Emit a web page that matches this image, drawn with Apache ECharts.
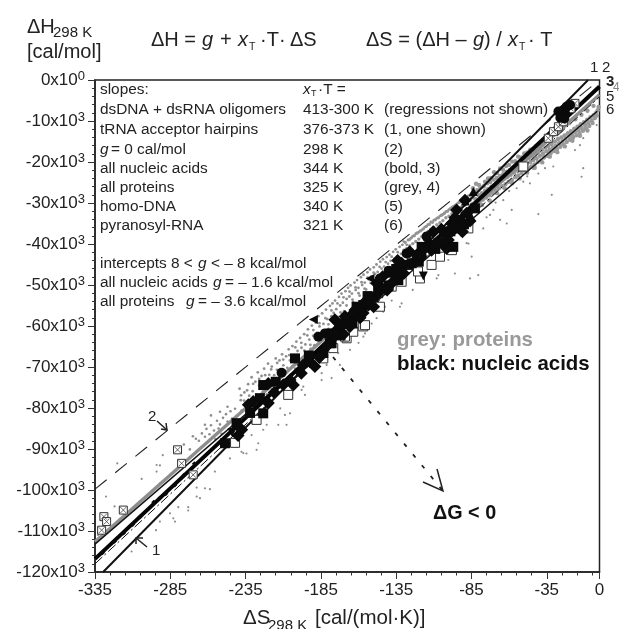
<!DOCTYPE html>
<html><head><meta charset="utf-8">
<style>html,body{margin:0;padding:0;background:#fff}#c{width:619px;height:629px;filter:blur(0.45px)}</style>
<script src="https://cdn.jsdelivr.net/npm/echarts@6/dist/echarts.min.js"></script>
</head><body><div id="c"></div>
<script>
// x = dS [cal/(mol K)], y = dH [kcal/mol]
const xMajorTicks=[-335,-285,-235,-185,-135,-85,-35,0];
const xMinorTicks=[-325,-315,-305,-295,-275,-265,-255,-245,-225,-215,-205,-195,-175,-165,-155,-145,-125,-115,-105,-95,-75,-65,-55,-45,-25,-15,-5];
const yTickLabels={"0":"0x10|0","-10":"-10x10|3","-20":"-20x10|3","-30":"-30x10|3","-40":"-40x10|3","-50":"-50x10|3","-60":"-60x10|3","-70":"-70x10|3","-80":"-80x10|3","-90":"-90x10|3","-100":"-100x10|3","-110":"-110x10|3","-120":"-120x10|3"};

const line1Trna=[[-329.6,-120],[-7.6,0]];
const line2Zero=[[-335,-99.8],[0,0]];
const line3Nucleic=[[-335,-116.8],[0,-1.6]];
const line4Proteins=[[-335,-112.6],[0,-3.6]];
const line5Homo=[[-335,-118],[0,-4.1]];
const line6Pyranosyl=[[-335,-113.2],[-1.5,-7.6]];

const proteinOutliers=[[-327.7,-101.6],[-320.2,-93.5],[-304,-97.3],[-294.1,-93.9],[-291.9,-94],[-294.1,-95.5],[-291.9,-98.4],[-285.2,-105.7],[-283,-106.9],[-281.9,-107.7],[-291.9,-107.7],[-294.5,-109.8],[-310.7,-115],[-279.7,-104.2],[-273.1,-104.2],[-273.1,-105],[-267.5,-101.6],[-265.3,-102],[-262,-99.6],[-267.5,-99.4],[-258.7,-99.8],[-255.4,-95.5],[-245.4,-92.3],[-237.7,-90.7],[-234.4,-91.1],[-333,-111],[-322,-104],[-290,-91.5],
[-236.5,-91],[-226.6,-88.6],[-227.7,-90.2],[-231,-86.6],[-221,-84.1],[-213.3,-84.1],[-207.8,-84.1],[-208.9,-81.7],[-195.6,-76.8],[-184.5,-71.5],[-184.5,-73.2],[-177.9,-72.7],[-187.8,-69.5],[-181.2,-69.5],[-197.8,-75.6],[-196.7,-74.8],[-212,-80.1],[-205.5,-81.3],[-223.3,-85.3],[-231,-83.7],[-172.4,-69.5],[-173.5,-66.6],[-165.7,-65.8],
[-108.1,-48.4],[-107,-47.6],[-96,-47.2],[-86,-48.4],[-80.5,-47.6],[-88.2,-39.8],[-87,-39.9],[-84.9,-43.1],[-100.4,-43.9],[-77.2,-36.2],[-131.4,-54.5],[-132.5,-55.3],[-142.4,-55.3],[-143.6,-56.5],[-148,-58.1],[-151.3,-59.4],[-155.7,-61.8],[-156.8,-62.6],[-160,-64.1],[-138,-53.8],[-124,-51.2],[-118,-46.3],[-103,-41.5],[-92,-37.9],[-75,-33.5],
[-10.8,-14.2],[-13,-15.9],[-16.3,-17.1],[-10.8,-21.5],[-11.9,-23.6],[-30.7,-21.1],[-36.2,-21.5],[-40.6,-22.8],[-46.2,-25.2],[-50.6,-24.8],[-31.7,-28],[-40.6,-32.7],[-63.9,-29.3],[-70.5,-31.7],[-72.7,-32.9],[-66,-34.1],[-61.6,-35],[-58.3,-31.7],[-1.9,-11],[-18,-14.3],[-26,-15.8],[-44,-21.7],[-48,-23.5],[-55,-26.4],[-60,-27.1],[-69,-29.9]];

const proteinsFarLeft=[[-268,-87.5],[-266,-88],[-264,-86.2],[-262,-87],[-261,-85.1],[-259,-86.4],[-258,-84.2],[-256,-85.5],[-255,-87.6],[-254,-83.1],[-253,-85],[-252,-84],[-251,-86.3],[-250,-82.4],[-249,-84.7],[-248,-81.5],[-247,-83.3],[-246,-85.2],[-245,-80.8],[-244,-82.6],[-243,-84.1],[-242,-80.2],[-241,-81.9],[-240,-83.4],[-262,-84.1],[-258,-81.8],[-252,-80.9],[-247,-79.7],[-276,-88.9],[-272,-90.1],[-270,-86.9]];

const proteinsMid=[[-239,-75.3],[-238.2,-78.1],[-237.5,-80.6],[-236.6,-82.4],[-235.8,-76.2],[-235,-79.4],[-234.2,-81.3],[-233.3,-74.2],[-232.6,-77],[-231.7,-80.2],[-231,-72.5],[-230.3,-75.9],[-229.4,-78.3],[-228.5,-73.6],[-227.7,-76.8],[-226.9,-71.3],[-226,-74.5],[-225.2,-78.9],[-224.4,-72.2],[-223.5,-76],[-222.7,-70.4],[-221.8,-73.5],[-221,-76.7],[-220.1,-69.2],[-219.3,-71.9],[-218.4,-75.1],[-217.6,-69.9],[-216.7,-73],[-215.9,-76],[-215,-67.9],[-214.2,-70.7],[-213.4,-74.2],[-212.5,-68.4],[-211.6,-71.2],[-210.8,-66.9],[-209.9,-69.6],[-209,-73.1],[-208.1,-67.4],[-207.3,-70.2],[-206.4,-65.7],[-205.6,-68.4],[-204.8,-71.8],[-203.9,-64.9],[-203,-67.3],[-202.1,-70.4],[-201.3,-63.8],[-200.5,-66.1],[-199.6,-68.8],[-198.8,-62.9],[-197.9,-65.3],[-197,-67.7],[-196.1,-62],[-195.3,-64.5],[-194.4,-66.9],[-193.6,-60.8],[-192.7,-63.3],[-191.9,-65.6],[-191,-59.9],[-190.1,-62.4],[-189.3,-64.7],[-188.4,-59.2],[-187.6,-61.7],[-186.7,-57.6],[-185.9,-60.1],[-185,-62.8],[-184.2,-56.9],[-183.3,-59.5],[-182.4,-61],[-181.6,-56],[-180.8,-58.3],[-179.9,-60.7],[-179,-55.1],[-178.1,-57.6],[-177.3,-54.5],[-176.5,-56.8],[-175.6,-53.8],[-174.8,-55.9],[-173.9,-57.8],[-173,-52.9],[-172.2,-55],[-171.3,-52.1],[-170.4,-54.3],[-169.6,-56.4],[-168.7,-51.5],[-167.9,-53.4],[-167,-50.7],[-166.1,-52.8],[-165.3,-50.1],[-164.4,-52.1],[-163.6,-54.2],[-162.7,-49.4],[-161.9,-51.2],[-161,-48.8],[-160.1,-50.7],[-159.3,-52.6],[-158.4,-48.1],[-157.6,-50],[-156.7,-47.5],[-155.9,-49.4],[-155,-51.1],[-154.1,-46.9],[-153.3,-48.6],[-152.4,-46.2],[-151.6,-47.9],[-150.7,-49.7],[-149.9,-45.7],[-149,-47.3],[-148.1,-45],[-147.3,-46.8],[-146.4,-48.5],[-145.6,-44.3],[-144.7,-46],[-143.8,-43.7],[-143,-45.5],[-142.1,-47.1],[-141.3,-43.2],[-140.4,-44.8],[-139.5,-42.6],[-138.7,-44.1],[-137.8,-45.9],[-137,-41.9],[-136.1,-43.6],[-135.3,-41.3],[-134.4,-43],[-133.5,-44.5],[-132.7,-40.7],[-131.8,-42.4],[-130.9,-40.2]];

const proteinsMidExtra=[[-238,-76.9],[-236,-78.2],[-234,-75.7],[-232,-78.6],[-230,-74.1],[-228,-77.7],[-226,-72.9],[-224,-75],[-222,-72],[-220,-74.6],[-218,-70.6],[-216,-72],[-214,-69],[-212,-72.7],[-210,-68.2],[-208,-71.4],[-206,-67.1],[-204,-69.8],[-202,-65.2],[-200,-67.7],[-198,-64.1],[-196,-66],[-194,-62.3],[-192,-64.6],[-190,-61],[-188,-63.2],[-186,-59.3],[-184,-61.4],[-182,-58.1],[-180,-59.6],[-178,-56.2],[-176,-58.4],[-174,-54.5],[-172,-56.7],[-170,-53],[-168,-55],[-166,-51.6],[-164,-53.6],[-162,-50.6],[-160,-52],[-158,-49.3],[-156,-50.9],[-154,-48.2],[-152,-49.5],[-150,-47],[-148,-48.3],[-146,-45.6],[-144,-47.3],[-142,-44.4],[-140,-45.9],[-138,-43.1],[-136,-44.8],[-134,-42],[-132,-43.6],[-130,-39.4],[-128,-40.2],[-126,-38.9],[-124,-38.1],[-122,-37.5],[-120,-37.1],[-118,-36.6],[-116,-35.9],[-114,-35.3],[-112,-34.6],[-110,-34.2],[-108,-33.7],[-106,-33.2],[-104,-32.8],[-102,-32.1],[-100,-31.6],[-98,-31],[-96,-30.6],[-94,-30],[-92,-29.5],[-90,-29],[-88,-28.6],[-86,-28]];

const proteinsUpperBand=[[-130,-41.5],[-129,-39.6],[-128,-41.1],[-127,-39],[-126,-40.4],[-125,-38.5],[-124,-39.9],[-123,-38],[-122,-39.4],[-121,-37.3],[-120,-38.8],[-119,-36.8],[-118,-38.2],[-117,-36.3],[-116,-37.5],[-115,-35.7],[-114,-37],[-113,-35.2],[-112,-36.4],[-111,-34.7],[-110,-35.9],[-109,-34.1],[-108,-35.3],[-107,-33.6],[-106,-34.8],[-105,-33],[-104,-34.3],[-103,-32.5],[-102,-33.6],[-101,-32],[-100,-33.2],[-99,-31.4],[-98,-32.6],[-97,-30.9],[-96,-32.1],[-95,-30.4],[-94,-31.4],[-93,-29.8],[-92,-31],[-91,-29.3],[-90,-30.5],[-89,-28.8],[-88,-29.9],[-87,-28.3],[-86,-29.4],[-85,-27.7]];

const proteinsTopRight=[[-84.5,-28.6],[-84,-30.2],[-83.2,-27.2],[-82.5,-29],[-81.8,-30.6],[-81,-26.9],[-80.3,-28.1],[-79.6,-29.9],[-79,-26.2],[-78.2,-27.6],[-77.5,-29.2],[-76.8,-25.9],[-76,-27],[-75.3,-28.7],[-74.6,-25.2],[-74,-26.6],[-73.2,-28.1],[-72.5,-24.9],[-71.8,-26],[-71,-27.6],[-70.3,-24.3],[-69.6,-25.6],[-69,-27],[-68.2,-23.9],[-67.5,-25.1],[-66.8,-26.4],[-66,-23.4],[-65.3,-24.6],[-64.6,-25.9],[-64,-23],[-63.2,-24],[-62.5,-25.4],[-61.8,-22.4],[-61,-23.6],[-60.3,-24.8],[-59.6,-22],[-59,-23.1],[-58.2,-24.4],[-57.5,-21.5],[-56.8,-22.6],[-56,-23.7],[-55.3,-21],[-54.6,-22.1],[-54,-23.3],[-53.2,-20.5],[-52.5,-21.6],[-51.8,-22.7],[-51,-20.1],[-50.3,-21.1],[-49.6,-22.1],[-49,-19.4],[-48.2,-20.5],[-47.5,-21.6],[-46.8,-19],[-46,-20],[-45.3,-21.1],[-44.6,-18.6],[-44,-19.5],[-43.2,-20.6],[-42.5,-18],[-41.8,-19.1],[-41,-20],[-40.3,-17.5],[-39.6,-18.5],[-39,-19.6],[-38.2,-17],[-37.5,-18],[-36.8,-18.9],[-36,-16.5],[-35.3,-17.4],[-34.6,-18.5],[-34,-16.1],[-33.2,-17],[-32.5,-17.9],[-31.8,-15.6],[-31,-16.5],[-30.3,-17.3],[-29.6,-15],[-29,-16],[-28.2,-16.8],[-27.5,-14.4],[-26.8,-15.4],[-26,-16.3],[-25.3,-14],[-24.6,-14.9],[-24,-15.7],[-23.2,-13.5],[-22.5,-14.3],[-21.8,-15.1],[-21,-13],[-20.3,-13.8],[-19.6,-14.6],[-19,-12.5],[-18.2,-13.3],[-17.5,-14],[-16.8,-11.9],[-16,-12.7],[-15.3,-13.5],[-14.6,-11.4],[-14,-12.2],[-13.2,-12.9],[-12.5,-10.8],[-11.8,-11.7],[-11,-12.4],[-10.3,-10.3],[-9.6,-11],[-9,-11.8],[-8.2,-9.7],[-7.5,-10.5],[-6.8,-11.2],[-6,-9.1],[-5.3,-9.9],[-4.6,-10.5],[-4,-8.6],[-3.2,-9.3],[-2.5,-8.1],[-1.8,-8.7],[-1.2,-7.4],[-0.6,-6.6],
[-84,-26.4],[-80,-25.6],[-76,-24.8],[-72,-23.9],[-68,-22.7],[-64,-21.9],[-60,-20.7],[-56,-19.8],[-52,-18.9],[-48,-17.7],[-44,-16.9],[-40,-15.8],[-36,-14.7],[-32,-13.7],[-28,-12.8],[-24,-11.6],[-20,-10.5],[-16,-9.6],[-12,-8.5],[-8,-7.5],[-4,-6.3],
[-83,-31.2],[-78,-30.5],[-73,-29.4],[-68,-27.6],[-63,-26.4],[-58,-25.2],[-53,-24],[-48,-22.6],[-43,-21.4],[-38,-20.1],[-33,-18.7],[-28,-17.6],[-23,-16.2],[-18,-14.8],[-13,-13.6],[-8,-12.3],
[-82,-25.3],[-74,-24],[-70,-22.5],[-66,-21.6],[-62,-21],[-58,-19.9],[-54,-18.7],[-50,-17.9],[-46,-17],[-42,-16.1],[-38,-15],[-34,-14.1],[-30,-13.2],[-26,-12.4]];

const blackSquares=[[-248.7,-88.6],[-241,-83.7],[-223.3,-81.3],[-225.5,-77.6],[-223.3,-74.4],[-202.2,-67.9],[-183.4,-66.6],[-177.9,-64.2],[-172.4,-59.7],[-167.9,-58.1],[-156.9,-54.9],[-179,-64.2],[-172.3,-59.4],[-161.3,-55.3],[-150.2,-52.9],[-143.6,-50.8],[-133.6,-48.8],[-124.7,-44.7],[-118.1,-40.7],[-107,-39.8],[-97.1,-40.7],[-92.6,-34.2],[-82.7,-31.3],[-139,-47],[-127,-45.1],[-113,-40.2],[-103,-37.2],[-164,-59.4],[-160,-57.2],[-154,-52.7],[-147,-50.5],[-140,-50.1],[-135,-46.1],[-120,-44.3],[-109,-41.2],[-99,-36.9],[-95,-36.2],[-90,-35.2],[-178,-61.8],[-172,-62.3],[-193,-67.2],[-215,-73.6],[-232,-81.2]];
const blackDiamonds=[[-237.6,-85.3],[-233.2,-79.2],[-219.9,-78.8],[-229.9,-78.4],[-219.9,-74],[-203.3,-74.4],[-205.5,-73.2],[-196.7,-69.5],[-189,-69.9],[-192.3,-68.7],[-180.1,-64.6],[-175.7,-61.4],[-175.7,-58.5],[-162.4,-56.1],[-165.7,-60.1],[-169,-57.7],[-163.5,-56.9],[-156.8,-54.5],[-153.5,-54.9],[-138,-49.6],[-136.9,-46.8],[-131.4,-44.7],[-121.4,-42.7],[-110.4,-37],[-100.4,-39],[-98.2,-35],[-94.9,-31.7],[-88.2,-32.5],[-89.3,-29.3],[-101.5,-41.1],[-111.5,-41.5],[-146.9,-52],[-148,-49.6],[-141,-51.2],[-130,-47.2],[-159,-58],[-216,-76.2],[-170,-62],[-198,-71.5],[-186,-67.7],[-105,-36.4],[-91,-37],[-144,-48],[-134,-44],[-126,-41.9],[-116,-41.1],[-104,-39.6],[-96,-33.6],[-86,-34.4],[-157,-56.8],[-150,-55.3],[-210,-74.3],[-240,-86.7]];
const blackCircles=[[-186.7,-62.6],[-182.3,-61.8],[-211.1,-71.4],[-145.8,-48.4],[-128.1,-42.3],[-114.8,-38.2],[-27.3,-7.7],[-24,-7.3],[-21.8,-6.5],[-22.9,-8.1],[-25.1,-8.5],[-19.6,-6.1],[-26,-9.2],[-23.4,-9.4],[-118,-43],[-140,-46.5]];
const blackTrianglesUp=[[-83.8,-27.2],[-89,-29.5],[-85,-33.5]];
const blackTrianglesLeft=[[-190,-58.4],[-152.4,-48.4]];
const blackTrianglesDown=[[-117,-47.8],[-92,-37],[-244,-86]];
const blackSmallOnLine=[[-269,-93.6],[-282,-98.8],[-276,-96.4],[-296,-103],[-292,-102],[-288,-100.9],[-305,-106.5],[-310,-108.4],[-322,-112.5],[-316,-110.5],[-330,-115.3]];

const openSquares=[[-50.6,-21.1],[-119.2,-48.4],[-111.5,-45.1],[-105.9,-43.1],[-87.1,-36.2],[-206.7,-76.8],[-227.7,-82.9],[-183.4,-67.9],[-176.8,-65.4],[-167.9,-63],[-156.9,-60.1],[-155.7,-59.8],[-163.5,-61.4],[-169,-62.6],[-131.4,-49.2],[-138,-50.4],[-145.8,-55.3],[-98,-41.5],[-242,-88.5],[-120.5,-46.7]];
const crossedSquares=[[-34,-14.2],[-30.6,-12.6],[-27.3,-11.4],[-24,-10.2],[-16.3,-5.7],[-329.1,-106.5],[-327.3,-107.7],[-330.6,-109.8],[-316.2,-104.9],[-280.2,-90.2],[-277.5,-93.5],[-269.8,-96.3],[-19,-7]];

const tableRows=[
 ["dsDNA + dsRNA oligomers","413-300 K","(regressions not shown)"],
 ["tRNA acceptor hairpins","376-373 K","(1, one shown)"],
 ["g=0 cal/mol","298 K","(2)"],
 ["all nucleic acids","344 K","(bold, 3)"],
 ["all proteins","325 K","(grey, 4)"],
 ["homo-DNA","340 K","(5)"],
 ["pyranosyl-RNA","321 K","(6)"]];

const F='"Liberation Sans",Arial,sans-serif';
const g=[];
function T(x,y,text,size,o){o=o||{};g.push({type:'text',x:x,y:y,z:50,silent:true,style:{text:text,fill:o.c||'#222',font:(o.i?'italic ':'')+(o.b?'bold ':'')+size+'px '+F,textAlign:o.a||'left',textVerticalAlign:'middle'}});}
function L(points,o){o=o||{};g.push({type:'polyline',z:49,silent:true,shape:{points:points},style:{stroke:'#222',fill:'none',lineWidth:o.w||1.5,lineDash:o.d||null}});}

// header
T(27,27,'ΔH',20);T(53,33,'298 K',15);T(27,52,'[cal/mol]',20);
T(151,40,'ΔH = ',20);T(202,40,'g',20,{i:1});T(220,40,'+',20);T(238,40,'x',20,{i:1});T(249,47,'T',10.5);T(260,40,'·T·',20);T(290,40,'ΔS',20);
T(366,40,'ΔS = (ΔH – ',20);T(473,40,'g',20,{i:1});T(484,40,') /',20);T(508,40,'x',20,{i:1});T(519,47,'T',10.5);T(528,40,'· T',20);
// table
const TS=15.4;
const rowY=[110,130,150,169,188,207,226];
T(100,90,'slopes:',TS);T(303,90,'x',TS,{i:1});T(311,94,'T',9);T(318,90,'·T =',TS);
tableRows.forEach((r,i)=>{
 if(r[0].startsWith('g=')){T(100,rowY[i],'g',TS,{i:1});T(111,rowY[i],'= 0 cal/mol',TS);} else T(100,rowY[i],r[0],TS);
 T(303,rowY[i],r[1],TS);T(384,rowY[i],r[2],TS);});
T(100,264,'intercepts 8 <',TS);T(198,264,'g',TS,{i:1});T(211,264,'< – 8 kcal/mol',TS);
T(100,283,'all nucleic acids',TS);T(213,283,'g',TS,{i:1});T(225,283,'= – 1.6 kcal/mol',TS);
T(100,302,'all proteins',TS);T(186,302,'g',TS,{i:1});T(198,302,'= – 3.6 kcal/mol',TS);
// line numbers
T(590,68,'1',15);T(602,68,'2',15);T(606,82,'3',15,{b:1});T(613,88,'4',12,{c:'#888'});T(606,97,'5',15);T(606,110,'6',15);
// legends
T(397,340,'grey: proteins',20.4,{b:1,c:'#999'});T(397,364,'black: nucleic acids',20.4,{b:1,c:'#111'});
T(433,514,'ΔG < 0',19.8,{b:1,c:'#111'});
// annotations
T(148,417,'2',15);T(152,551,'1',15);
L([[157,421],[167,430]]);L([[161,429],[167,430],[166,423]]);
L([[136,538],[147,547]]);L([[136,544],[136,538],[143,538]]);
L([[333,357],[443,491]],{d:[4,10],w:1.8});L([[423,482],[443,491],[437,469]]);
// x axis title
T(243,618,'ΔS',20.5);T(268,626,'298 K',15);T(315,618,'[cal/(mol·K)]',20.5);

const lineS=(data,color,width,dash,z)=>({type:'line',data:data,symbol:'none',silent:true,z:z||3,lineStyle:{color:color,width:width,type:dash||'solid'}});
const dots=(data,size,color)=>({type:'scatter',data:data,symbol:'circle',symbolSize:size,silent:true,z:2,itemStyle:{color:color,opacity:1}});
const black=(data,sym,size,rot)=>({type:'scatter',data:data,symbol:sym,symbolSize:size,symbolRotate:rot||0,silent:true,z:5,itemStyle:{color:'#0a0a0a',opacity:1}});
const open=(data,size)=>({type:'scatter',data:data,symbol:'rect',symbolSize:size,silent:true,z:4,itemStyle:{color:'#fff',opacity:1,borderColor:'#333',borderWidth:1}});

const chart=echarts.init(document.getElementById('c'),null,{renderer:'canvas'});
chart.setOption({
 animation:false,
 textStyle:{fontFamily:F},
 grid:{left:95,right:19.5,top:80,bottom:57,show:true,borderColor:'#222',borderWidth:1.5,backgroundColor:'transparent'},
 xAxis:[{type:'value',min:-335,max:0,splitLine:{show:false},
   axisLine:{onZero:false,lineStyle:{color:'#222',width:1.5}},
   axisTick:{customValues:xMajorTicks,length:7,lineStyle:{color:'#333',width:1}},
   axisLabel:{customValues:xMajorTicks,color:'#222',fontSize:17,margin:10,fontFamily:F,formatter:v=>String(v)}},
  {type:'value',min:-335,max:0,position:'bottom',splitLine:{show:false},
   axisLine:{show:false,onZero:false},
   axisTick:{customValues:xMinorTicks,length:3.5,lineStyle:{color:'#333',width:1}},
   axisLabel:{show:false}}],
 yAxis:{type:'value',min:-120,max:0,interval:10,splitLine:{show:false},
   axisLine:{onZero:false,lineStyle:{color:'#222',width:1.5}},
   axisTick:{length:7,lineStyle:{color:'#333',width:1}},
   minorTick:{show:true,splitNumber:5,length:3,lineStyle:{color:'#333',width:1}},
   minorSplitLine:{show:false},
   axisLabel:{color:'#222',margin:10,fontFamily:F,
     formatter:v=>{const p=yTickLabels[String(v)].split('|');return '{m|'+p[0]+'}{s|'+p[1]+'}';},
     rich:{m:{fontSize:17,color:'#222',fontFamily:F},s:{fontSize:13,color:'#222',fontFamily:F,padding:[0,0,7,0]}}}},
 series:[
  dots(proteinOutliers,2.2,'#8e8e8e'),
  dots(proteinsFarLeft,2.6,'#8e8e8e'),
  dots(proteinsMid,2.8,'#909090'),
  dots(proteinsMidExtra,2.8,'#909090'),
  dots(proteinsUpperBand,3.4,'#949494'),
  dots(proteinsTopRight,4.4,'#999999'),
  lineS(line2Zero,'#222',1.1,[15,11]),
  lineS(line4Proteins,'#8e8e8e',3.4,null,3),
  lineS(line6Pyranosyl,'#111',1.4,null,3),
  lineS(line5Homo,'#111',1,[10,3,2,3],3),
  lineS(line3Nucleic,'#050505',4,null,3),
  lineS(line1Trna,'#111',2,null,3),
  open(openSquares,9),
  open(crossedSquares,8),
  {type:'scatter',data:crossedSquares,symbol:'path://M0 0L10 10M10 0L0 10',symbolSize:6,silent:true,z:5,itemStyle:{color:'none',borderColor:'#444',borderWidth:1}},
  black(blackSquares,'rect',10),
  black(blackDiamonds,'diamond',13),
  black(blackCircles,'circle',10),
  black(blackTrianglesUp,'triangle',9),
  black(blackTrianglesLeft,'triangle',9,90),
  black(blackTrianglesDown,'triangle',9,180),
  black(blackSmallOnLine,'diamond',5)
 ],
 graphic:g
});
</script></body></html>
